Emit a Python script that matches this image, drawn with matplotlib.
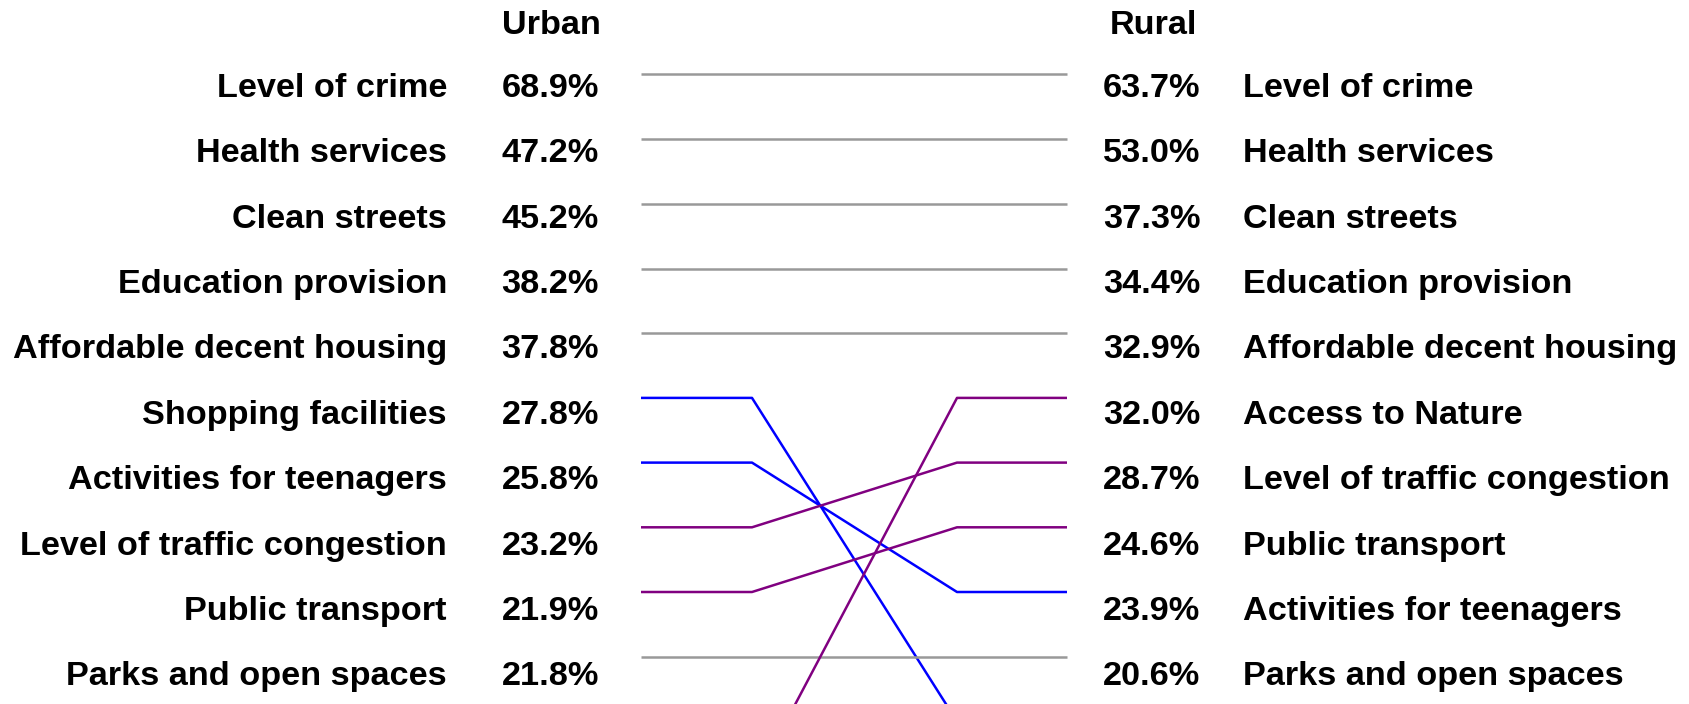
import matplotlib
matplotlib.use("Agg")
import matplotlib.pyplot as plt

# urban ranking (top 10 shown)
urban_labels = ["Level of crime", "Health services", "Clean streets", "Education provision",
                "Affordable decent housing", "Shopping facilities", "Activities for teenagers",
                "Level of traffic congestion", "Public transport", "Parks and open spaces"]
urban_values = [68.9, 47.2, 45.2, 38.2, 37.8, 27.8, 25.8, 23.2, 21.9, 21.8]

# rural ranking (top 10 shown)
rural_labels = ["Level of crime", "Health services", "Clean streets", "Education provision",
                "Affordable decent housing", "Access to Nature", "Level of traffic congestion",
                "Public transport", "Activities for teenagers", "Parks and open spaces"]
rural_values = [63.7, 53.0, 37.3, 34.4, 32.9, 32.0, 28.7, 24.6, 23.9, 20.6]

# ranks outside the top 10
other_urban_ranks = {"Access to Nature": 12}
other_rural_ranks = {"Shopping facilities": 11}

plt.rcParams["font.family"] = ["Liberation Sans", "DejaVu Sans"]

fig = plt.figure(figsize=(16.9, 7.04), dpi=100)
ax = fig.add_axes([0, 0, 1, 1])
ax.set_xlim(0, 1690)
ax.set_ylim(10.731, -0.150)
ax.axis("off")

def urban_rank(name):
    if name in urban_labels:
        return urban_labels.index(name) + 1
    return other_urban_ranks[name]

def rural_rank(name):
    if name in rural_labels:
        return rural_labels.index(name) + 1
    return other_rural_ranks[name]

x_pts = [641, 752, 957, 1067]
all_names = list(dict.fromkeys(urban_labels + rural_labels))
for name in all_names:
    u = urban_rank(name)
    r = rural_rank(name)
    if r < u:
        color = "purple"
    elif r > u:
        color = "blue"
    else:
        color = "#999999"
    ax.plot(x_pts, [u, u, r, r], color=color, lw=1.8, solid_capstyle="butt", zorder=2)

fs = 24.7
ax.text(551, 0.24, "Urban", ha="center", va="center", fontsize=fs, fontweight="bold")
ax.text(1153, 0.24, "Rural", ha="center", va="center", fontsize=fs, fontweight="bold")
for i, (lab, val) in enumerate(zip(urban_labels, urban_values)):
    y = i + 1 + 0.215 + i * 0.0108
    ax.text(447, y, lab, ha="right", va="center", fontsize=fs, fontweight="bold")
    ax.text(599, y, f"{val:.1f}%", ha="right", va="center", fontsize=fs, fontweight="bold")
for i, (lab, val) in enumerate(zip(rural_labels, rural_values)):
    y = i + 1 + 0.215 + i * 0.0108
    ax.text(1103, y, f"{val:.1f}%", ha="left", va="center", fontsize=fs, fontweight="bold")
    ax.text(1243, y, lab, ha="left", va="center", fontsize=fs, fontweight="bold")

fig.savefig("out.png", dpi=100)
